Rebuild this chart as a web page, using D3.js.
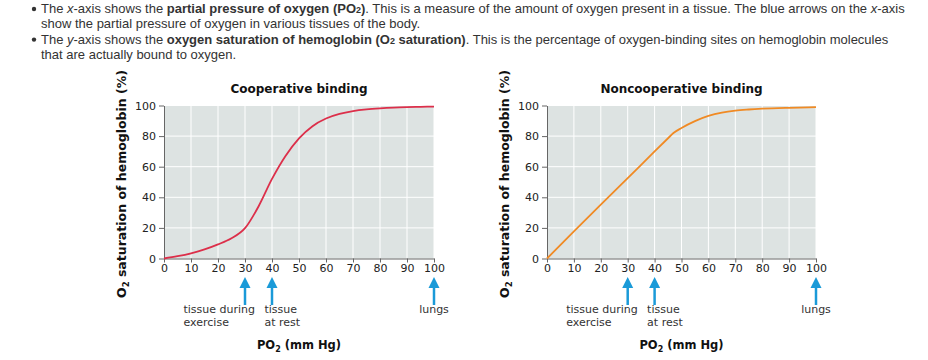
<!DOCTYPE html>
<html><head><meta charset="utf-8">
<script src="https://cdn.jsdelivr.net/npm/d3@7"></script>
<style>
body{margin:0;background:#fff;}
svg{display:block;}
</style></head>
<body><svg id="c" width="928" height="360"></svg>
<script>
const po2 = [0,5,10,15,20,25,30,35,40,45,50,55,60,65,70,75,80,85,90,95,100];
const cooperative = [0,1.5,3.4,5.9,9.2,13.2,19.8,34,52,67,78.5,86.5,91.5,94.5,96.3,97.4,98.1,98.6,98.9,99.1,99.3];
const noncoopX = [0,10,20,30,40,45,47,50,55,60,65,70,75,80,90,100];
const noncooperative = [0,17.7,35.2,52.5,70,78.6,82,85.3,89.8,93.2,95.4,96.7,97.4,97.9,98.5,98.9];
const xTicks = [0,10,20,30,40,50,60,70,80,90,100];
const yTicks = [0,20,40,60,80,100];
const arrowPos = [30,40,100];
const arrowLabels = [["tissue during","exercise"],["tissue","at rest"],["lungs"]];
const titles = ["Cooperative binding","Noncooperative binding"];
const colors = ["#dc2f4a","#f08a24"];

const svg = d3.select("#c");

// Intro text
const intro = svg.append("g").attr("font-family","Liberation Sans, Arial, sans-serif").attr("font-size",13).attr("fill","#333");
const lines = [
  {b:true, parts:[["The ",0],["x",2],["-axis shows the ",0],["partial pressure of oxygen (PO",1],["2",3],[")",1],[". This is a measure of the amount of oxygen present in a tissue. The blue arrows on the ",0],["x",2],["-axis",0]]},
  {b:false, parts:[["show the partial pressure of oxygen in various tissues of the body.",0]]},
  {b:true, parts:[["The ",0],["y",2],["-axis shows the ",0],["oxygen saturation of hemoglobin (O",1],["2",3],[" saturation)",1],[". This is the percentage of oxygen-binding sites on hemoglobin molecules",0]]},
  {b:false, parts:[["that are actually bound to oxygen.",0]]}
];
lines.forEach((ln,i)=>{
  const y = 13 + i*15.3;
  if(ln.b) intro.append("circle").attr("cx",34).attr("cy",y-4).attr("r",2.2).attr("fill","#333");
  const t = intro.append("text").attr("x",41).attr("y",y);
  ln.parts.forEach(p=>{
    const s = t.append("tspan").text(p[0]);
    if(p[1]===1) s.attr("font-weight","bold");
    if(p[1]===2) s.attr("font-style","italic");
    if(p[1]===3) s.attr("font-weight","bold").attr("font-size",9);
  });
});

function panel(left, right, xs, ys, color, title){
  const top=105.5, bottom=258.5;
  const x = d3.scaleLinear().domain([0,100]).range([left,right]);
  const y = d3.scaleLinear().domain([0,100]).range([bottom,top]);
  const g = svg.append("g").attr("font-family","DejaVu Sans, Verdana, sans-serif");
  g.append("rect").attr("x",left).attr("y",top).attr("width",right-left).attr("height",bottom-top).attr("fill","#dde3e2");
  g.selectAll(".vg").data(xTicks.slice(1)).join("line").attr("x1",d=>x(d)).attr("x2",d=>x(d)).attr("y1",top).attr("y2",bottom).attr("stroke","#fff").attr("stroke-width",1);
  g.selectAll(".hg").data(yTicks.slice(1)).join("line").attr("y1",d=>y(d)).attr("y2",d=>y(d)).attr("x1",left).attr("x2",right).attr("stroke","#fff").attr("stroke-width",1);
  const xa = g.append("g").attr("transform",`translate(0,${bottom})`).call(d3.axisBottom(x).tickValues(xTicks).tickSize(4).tickPadding(2).tickSizeOuter(0));
  const ya = g.append("g").attr("transform",`translate(${left},0)`).call(d3.axisLeft(y).tickValues(yTicks).tickSize(5).tickPadding(3).tickSizeOuter(0));
  [xa,ya].forEach(a=>{
    a.select(".domain").attr("stroke","#666");
    a.selectAll(".tick line").attr("stroke","#666");
    a.selectAll(".tick text").attr("fill","#222").attr("font-size",11).attr("font-family","DejaVu Sans, Verdana, sans-serif");
  });
  const line = d3.line().x(d=>x(d[0])).y(d=>y(d[1])).curve(d3.curveMonotoneX);
  g.append("path").datum(xs.map((v,i)=>[v,ys[i]])).attr("d",line).attr("fill","none").attr("stroke",color).attr("stroke-width",1.8);
  g.append("text").attr("x",(left+right)/2).attr("y",93).attr("text-anchor","middle").attr("font-weight","bold").attr("font-size",12).attr("fill","#111").text(title);
  const yl = g.append("text").attr("transform",`translate(${left-38},${184}) rotate(-90)`).attr("text-anchor","middle").attr("font-weight","bold").attr("font-size",12.5).attr("fill","#111");
  yl.append("tspan").text("O");
  yl.append("tspan").attr("font-size",8.5).attr("dy",3).text("2");
  yl.append("tspan").attr("dy",-3).text(" saturation of hemoglobin (%)");
  // arrows
  arrowPos.forEach((p,i)=>{
    const ax = x(p);
    g.append("line").attr("x1",ax).attr("x2",ax).attr("y1",285).attr("y2",305).attr("stroke","#1a9ad8").attr("stroke-width",2.5);
    g.append("path").attr("d",`M${ax},277 L${ax-5.5},288 L${ax+5.5},288 Z`).attr("fill","#1a9ad8");
    const lbl = arrowLabels[i];
    const anchor = i===2 ? "middle" : "start";
    const lx = i===2 ? ax : (i===0 ? ax-61.5 : ax-7.5);
    const t = g.append("text").attr("font-size",11).attr("fill","#333").attr("text-anchor",anchor);
    lbl.forEach((s,k)=>t.append("tspan").attr("x",lx).attr("y",313+k*12.5).text(s));
  });
  const xl = g.append("text").attr("x",(left+right)/2).attr("y",349).attr("text-anchor","middle").attr("font-weight","bold").attr("font-size",11.5).attr("fill","#111");
  xl.append("tspan").text("PO");
  xl.append("tspan").attr("font-size",8).attr("dy",3).text("2");
  xl.append("tspan").attr("dy",-3).text(" (mm Hg)");
}
panel(164,434,po2,cooperative,colors[0],titles[0]);
panel(547,816,noncoopX,noncooperative,colors[1],titles[1]);
</script></body></html>
